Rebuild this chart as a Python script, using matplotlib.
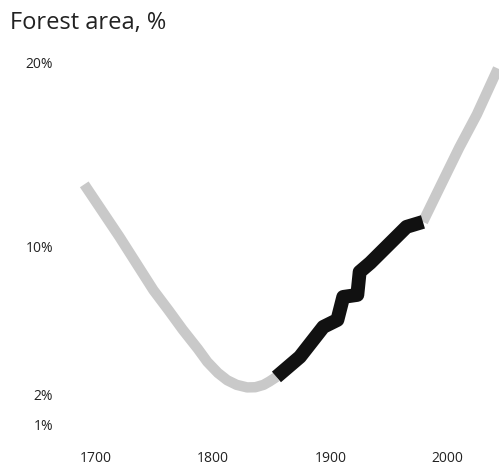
import numpy as np
import matplotlib
matplotlib.use("Agg")
import matplotlib.pyplot as plt

# forest area (%)
years_early = [1690, 1720, 1749, 1762, 1774, 1787, 1795, 1804, 1812, 1820, 1829, 1836, 1843, 1848, 1854]
area_early = [13.4, 10.55, 7.65, 6.55, 5.5, 4.45, 3.75, 3.15, 2.75, 2.5, 2.36, 2.37, 2.5, 2.68, 2.93]

years_mid = [1854, 1874, 1894, 1906, 1911, 1923, 1925, 1934, 1965, 1979]
area_mid = [2.93, 4.02, 5.65, 6.03, 7.28, 7.39, 8.64, 9.13, 11.09, 11.36]

years_late = [1979, 1995, 2010, 2025, 2043]
area_late = [11.36, 13.45, 15.4, 17.2, 19.7]

xticks = [1700, 1800, 1900, 2000]
yticks = [1, 2, 10, 20]
ylabels = ["1%", "2%", "10%", "20%"]

plt.rcParams['font.family'] = ['Open Sans', 'DejaVu Sans']

# the value axis is stretched below 2%
def fwd(v):
    v = np.asarray(v, dtype=float)
    return np.where(v >= 2, v, 2 + (v - 2) * 30 / 18.4)

def inv(u):
    u = np.asarray(u, dtype=float)
    return np.where(u >= 2, u, 2 + (u - 2) * 18.4 / 30)

fig = plt.figure(figsize=(4.99, 4.70), dpi=100)
ax = fig.add_axes([60 / 499, 30 / 470, 439 / 499, 400 / 470])
ax.set_yscale('function', functions=(fwd, inv))

grey = '#c9c9c9'
ax.plot(years_early, area_early, color=grey, lw=7.5, solid_capstyle='butt', solid_joinstyle='round')
ax.plot(years_late, area_late, color=grey, lw=7.5, solid_capstyle='butt', solid_joinstyle='round')
ax.plot(years_mid, area_mid, color='#111111', lw=10, solid_capstyle='butt', solid_joinstyle='round')

ax.set_xlim(1669.3, 2043.9)
ax.set_ylim(0.467, 21.25)
ax.set_xticks(xticks)
ax.set_xticklabels([str(t) for t in xticks])
ax.set_yticks(yticks)
ax.set_yticklabels(ylabels)
ax.tick_params(length=0, labelsize=10, colors='#222222')
ax.tick_params(axis='x', pad=8)
ax.tick_params(axis='y', pad=5)
for s in ax.spines.values():
    s.set_visible(False)

fig.text(10 / 499, 1 - 23 / 470, "Forest area, %", fontsize=17,
         color='#222222', ha='left', va='center')

fig.savefig("out.png", dpi=100)
